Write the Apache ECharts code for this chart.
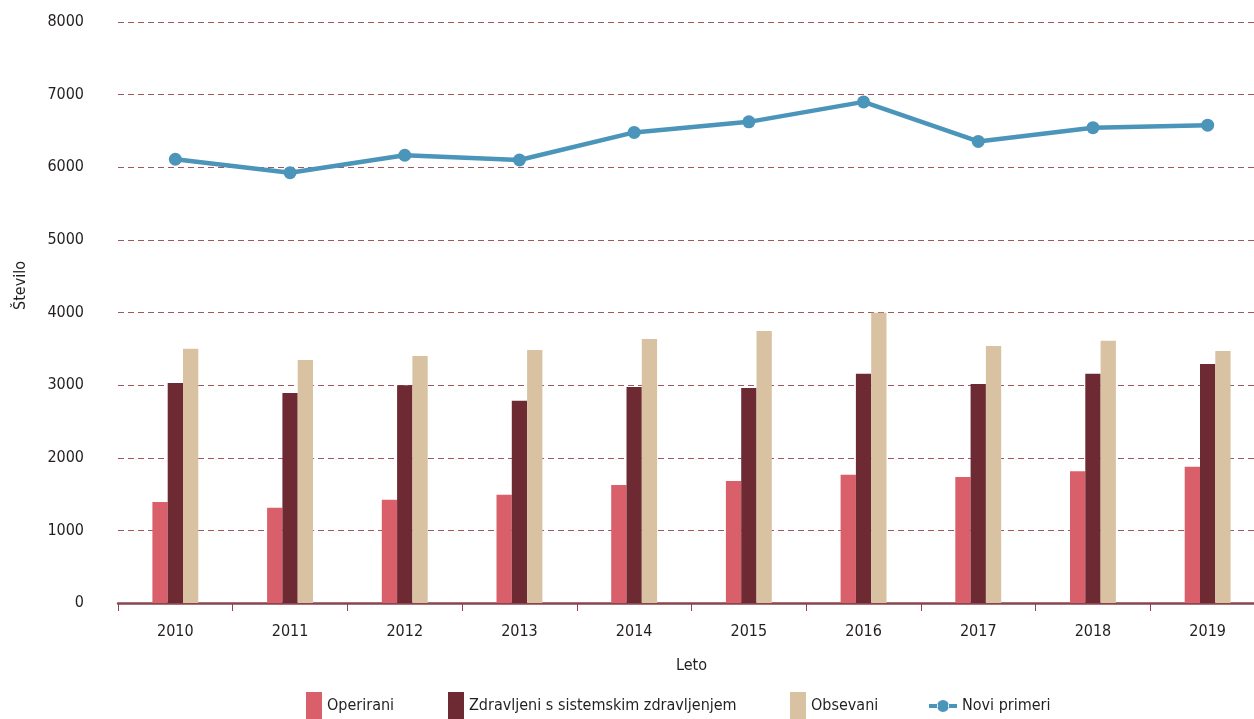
<!DOCTYPE html>
<html>
<head>
<meta charset="utf-8">
<script src="https://cdn.jsdelivr.net/npm/echarts@6/dist/echarts.min.js"></script>
<style>
html,body{margin:0;padding:0;background:#fff;}
#chart{width:1254px;height:719px;}
</style>
</head>
<body>
<div id="chart"></div>
<script>
const years = ['2010','2011','2012','2013','2014','2015','2016','2017','2018','2019'];
const operirani = [1390, 1310, 1420, 1490, 1625, 1680, 1765, 1735, 1815, 1875];
const zdravljeni = [3030, 2890, 3000, 2785, 2975, 2960, 3155, 3015, 3155, 3290];
const obsevani = [3500, 3345, 3400, 3485, 3635, 3745, 3995, 3540, 3610, 3470];
const noviPrimeri = [6110, 5925, 6165, 6100, 6480, 6625, 6900, 6355, 6545, 6580];
const yTicks = [0, 1000, 2000, 3000, 4000, 5000, 6000, 7000, 8000];

const FONT = '"DejaVu Sans Condensed", "Liberation Sans Narrow", sans-serif';
const FS = 16;
const TXT = '#231f20';
const AX = '#8b4550';

const legendText = {fontFamily: FONT, fontSize: FS, color: TXT};
function barLegend(name, left) {
  return {left: left, top: 692, padding: 0, itemWidth: 16, itemHeight: 27, itemTextGap: 8,
          textStyle: legendText, data: [{name: name, icon: 'rect'}]};
}

const chart = echarts.init(document.getElementById('chart'), null, {renderer: 'canvas'});
chart.setOption({
  animation: false,
  textStyle: {fontFamily: FONT},
  grid: {left: 118, top: 22, right: -11, bottom: 116, outerBoundsMode: 'none', containLabel: false},
  legend: [
    barLegend('Operirani', 306),
    barLegend('Zdravljeni s sistemskim zdravljenjem', 448),
    barLegend('Obsevani', 790),
    {
      left: 929, top: 698, padding: 0,
      itemWidth: 28, itemHeight: 27, itemTextGap: 11,
      textStyle: legendText,
      data: [{name: 'Novi primeri', icon: 'path://M0,4.5h9v4h-9z M19,4.5h9v4h-9z M8,6.5a6,6 0 1,0 12,0a6,6 0 1,0 -12,0z'}]
    }
  ],
  graphic: [{
    type: 'text',
    style: {text: 'Število', font: FS + 'px ' + FONT, fill: TXT},
    rotation: Math.PI / 2,
    x: 13, y: 310
  }],
  xAxis: {
    type: 'category',
    data: years,
    name: 'Leto',
    nameLocation: 'middle',
    nameGap: 55,
    nameTextStyle: {fontFamily: FONT, fontSize: FS, color: TXT},
    axisLine: {show: true, lineStyle: {color: AX, width: 2.5}},
    axisTick: {show: true, length: 8, alignWithLabel: false, lineStyle: {color: AX, width: 1}},
    axisLabel: {fontFamily: FONT, fontSize: FS, color: TXT, margin: 21}
  },
  yAxis: {
    type: 'value',
    min: yTicks[0], max: yTicks[yTicks.length - 1], interval: 1000,
    axisLine: {show: false},
    axisTick: {show: false},
    axisLabel: {fontFamily: FONT, fontSize: FS, color: TXT, margin: 34, formatter: v => String(v)},
    splitLine: {show: true, lineStyle: {color: '#a0585f', type: [6, 4], width: 1}}
  },
  series: [
    {name: 'Operirani', type: 'bar', data: operirani, barWidth: 15.3, barGap: '0%',
     itemStyle: {color: '#d9606a'}},
    {name: 'Zdravljeni s sistemskim zdravljenjem', type: 'bar', data: zdravljeni, barWidth: 15.3, barGap: '0%',
     itemStyle: {color: '#6e2a32'}},
    {name: 'Obsevani', type: 'bar', data: obsevani, barWidth: 15.3, barGap: '0%',
     itemStyle: {color: '#d9c2a2'}},
    {name: 'Novi primeri', type: 'line', data: noviPrimeri,
     symbol: 'circle', symbolSize: 13,
     lineStyle: {color: '#4a95b9', width: 4.5},
     itemStyle: {color: '#4a95b9'}, z: 5}
  ]
});
</script>
</body>
</html>
